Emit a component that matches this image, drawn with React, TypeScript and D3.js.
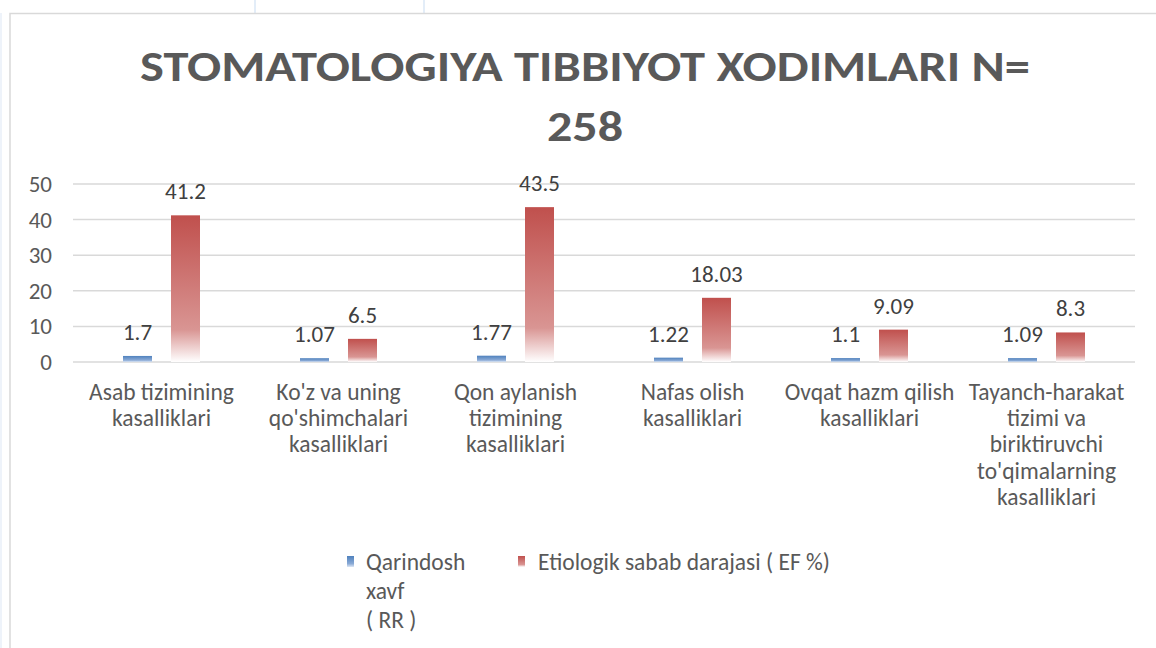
import React from "react";
import * as d3 from "d3";

const categories = [
  ["Asab tizimining", "kasalliklari"],
  ["Ko'z va uning", "qo'shimchalari", "kasalliklari"],
  ["Qon aylanish", "tizimining", "kasalliklari"],
  ["Nafas olish", "kasalliklari"],
  ["Ovqat hazm qilish", "kasalliklari"],
  ["Tayanch-harakat", "tizimi va", "biriktiruvchi", "to'qimalarning", "kasalliklari"],
];
const rrValues = [1.7, 1.07, 1.77, 1.22, 1.1, 1.09];
const efValues = [41.2, 6.5, 43.5, 18.03, 9.09, 8.3];
const rrLabels = ["1.7", "1.07", "1.77", "1.22", "1.1", "1.09"];
const efLabels = ["41.2", "6.5", "43.5", "18.03", "9.09", "8.3"];
const yTicks = [0, 10, 20, 30, 40, 50];
const titleLines = ["STOMATOLOGIYA TIBBIYOT XODIMLARI N=", "258"];
const legendRR = ["Qarindosh", "xavf", "( RR )"];
const legendEF = "Etiologik sabab darajasi ( EF %)";

const W = 1156;
const H = 648;
const font = "Carlito, Lato, sans-serif";
const textColor = "#595959";

export default function App() {
  const x = d3.scaleBand<number>().domain(d3.range(6)).range([73, 1135]);
  const y = d3.scaleLinear().domain([0, 50]).range([362, 184]);
  const barW = 29;
  const offset = 24;

  return (
    <svg width={W} height={H} style={{ position: "absolute", left: 0, top: 0 }}>
      <defs>
        <linearGradient id="redGrad" x1="0" y1="0" x2="0" y2="1">
          <stop offset="0" stopColor="#c0504d" />
          <stop offset="0.78" stopColor="#d99593" />
          <stop offset="1" stopColor="#ffffff" />
        </linearGradient>
        <linearGradient id="blueGrad" x1="0" y1="0" x2="0" y2="1">
          <stop offset="0" stopColor="#4f81bd" />
          <stop offset="0.7" stopColor="#8aaad6" />
          <stop offset="1" stopColor="#dde7f4" />
        </linearGradient>
      </defs>
      <rect x={0} y={0} width={W} height={H} fill="#ffffff" />
      <line x1={255} x2={255} y1={0} y2={13} stroke="#e3edf8" strokeWidth={2} />
      <line x1={424} x2={424} y1={0} y2={13} stroke="#e3edf8" strokeWidth={2} />
      <line x1={1} x2={1} y1={13} y2={H} stroke="#eef3fa" strokeWidth={2} />
      <path d={`M10,${H} V13.5 H${W}`} fill="none" stroke="#d9d9d9" strokeWidth={1.5} />

      {titleLines.map((t, i) => (
        <text
          key={t}
          x={585}
          y={81 + i * 60}
          textAnchor="middle"
          fontFamily={font}
          fontWeight="bold"
          fontSize={43}
          fill={textColor}
          textLength={i === 0 ? 890 : 76}
          lengthAdjust="spacingAndGlyphs"
        >
          {t}
        </text>
      ))}

      {yTicks.map((t) => (
        <g key={t}>
          <line x1={73} x2={1135} y1={y(t)} y2={y(t)} stroke="#d9d9d9" strokeWidth={1.5} />
          <text x={52} y={y(t) + 8} textAnchor="end" fontFamily={font} fontSize={23} fill={textColor}>
            {t}
          </text>
        </g>
      ))}

      {categories.map((lines, i) => {
        const cx = (x(i) ?? 0) + x.bandwidth() / 2;
        return (
          <g key={i}>
            <rect
              x={cx - offset - barW / 2}
              y={y(rrValues[i])}
              width={barW}
              height={y(0) - y(rrValues[i])}
              fill="url(#blueGrad)"
            />
            <rect
              x={cx + offset - barW / 2}
              y={y(efValues[i])}
              width={barW}
              height={y(0) - y(efValues[i])}
              fill="url(#redGrad)"
            />
            <text x={cx - offset} y={y(rrValues[i]) - 16} textAnchor="middle" fontFamily={font} fontSize={23} fill="#404040">
              {rrLabels[i]}
            </text>
            <text x={cx + offset} y={y(efValues[i]) - 16} textAnchor="middle" fontFamily={font} fontSize={23} fill="#404040">
              {efLabels[i]}
            </text>
            {lines.map((l, j) => (
              <text key={j} x={cx} y={400 + j * 26.2} textAnchor="middle" fontFamily={font} fontSize={23.5} fill={textColor}>
                {l}
              </text>
            ))}
          </g>
        );
      })}

      <rect x={347} y={556} width={7} height={11} fill="url(#blueGrad)" />
      {legendRR.map((l, j) => (
        <text key={l} x={366} y={570 + j * 29} fontFamily={font} fontSize={23.5} fill={textColor}>
          {l}
        </text>
      ))}
      <rect x={518} y={556} width={7} height={11} fill="url(#redGrad)" />
      <text x={538} y={570} fontFamily={font} fontSize={23.5} fill={textColor}>
        {legendEF}
      </text>
    </svg>
  );
}
